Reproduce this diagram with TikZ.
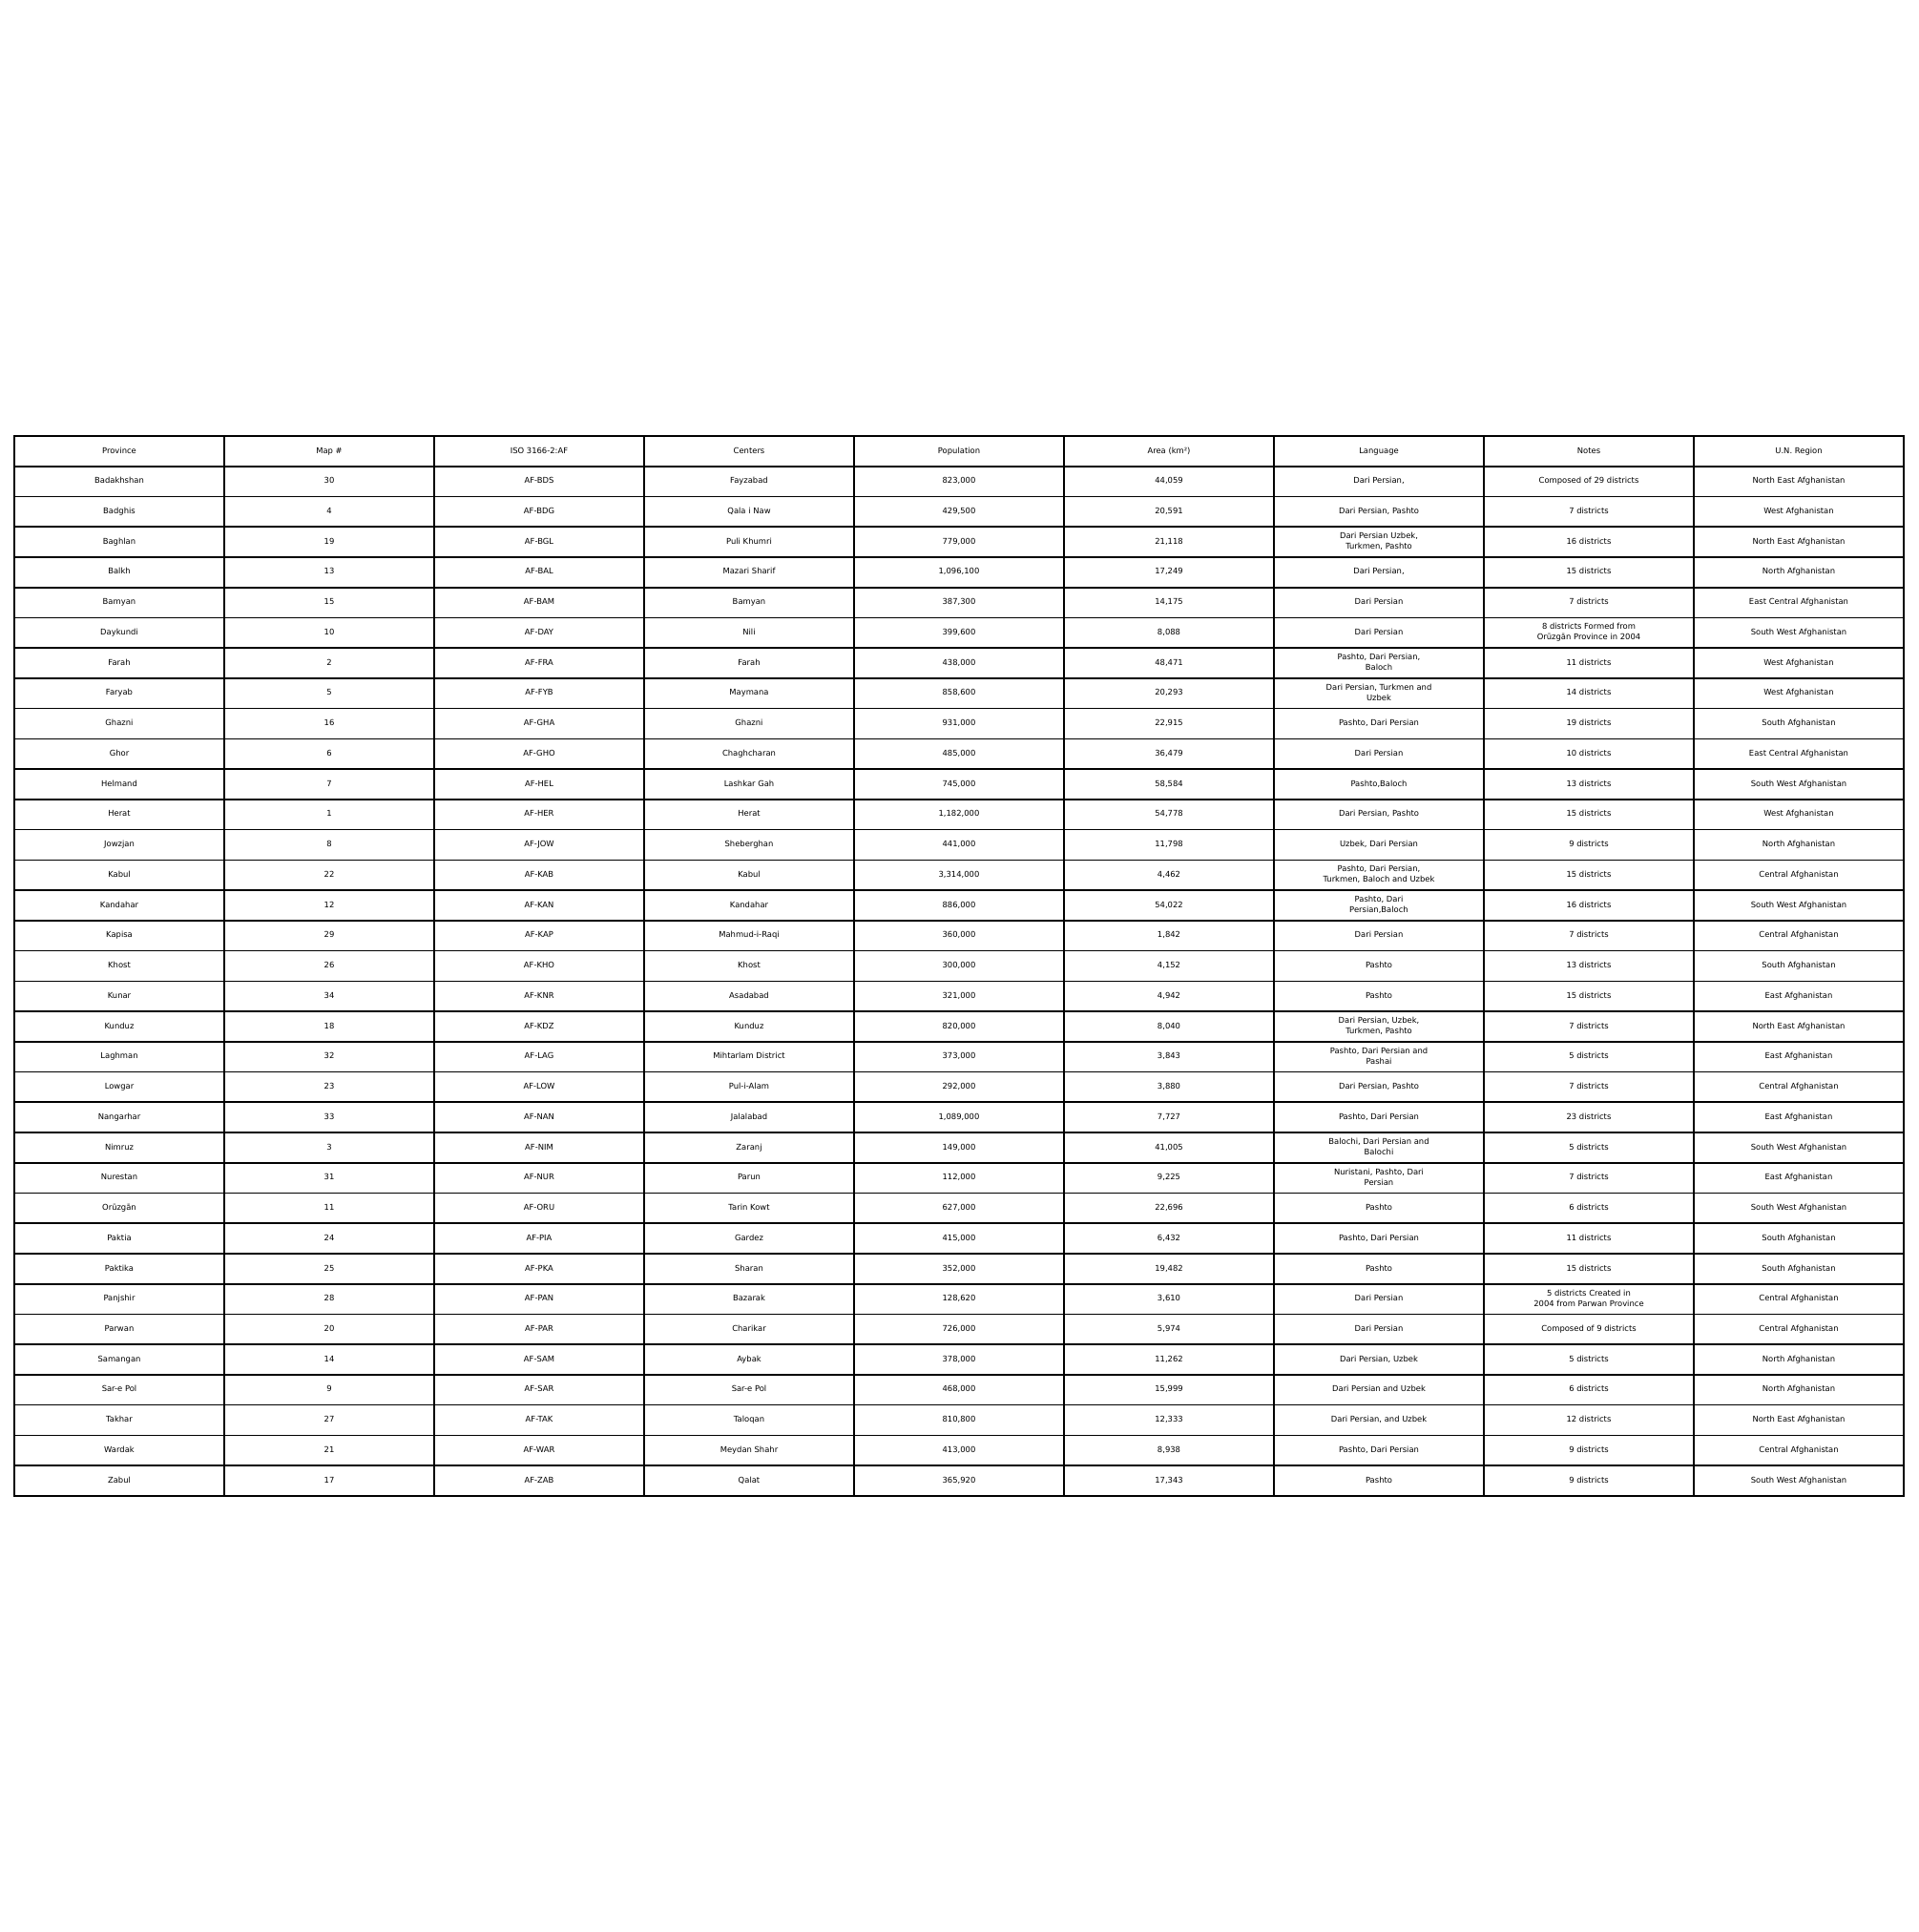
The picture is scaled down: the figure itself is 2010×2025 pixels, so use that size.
\documentclass[tikz,border=0pt]{standalone}
\usepackage{fontspec}
\setmainfont{DejaVu Sans}
\newcounter{rowi}
\newcommand\cs{\rule[-2.1pt]{0pt}{8.5pt}}
\tikzset{
  cell/.style={draw=black, line width=1.6pt, minimum width=220pt, minimum height=31.74pt,
    inner sep=0pt, align=center, text=black, font=\fontsize{8.4}{11}\selectfont}
}
\newcommand\trow[9]{%
  \stepcounter{rowi}%
  \edef\rn{\arabic{rowi}}%
  \pgfmathsetmacro\ry{457+31.74*(\rn-0.5)}%
  \node[cell] (r\rn c1) at (125,\ry) {\cs#1\cs};
  \node[cell] (r\rn c2) at (345,\ry) {\cs#2\cs};
  \node[cell] (r\rn c3) at (565,\ry) {\cs#3\cs};
  \node[cell] (r\rn c4) at (785,\ry) {\cs#4\cs};
  \node[cell] (r\rn c5) at (1005,\ry) {\cs#5\cs};
  \node[cell] (r\rn c6) at (1225,\ry) {\cs#6\cs};
  \node[cell] (r\rn c7) at (1445,\ry) {\cs#7\cs};
  \node[cell] (r\rn c8) at (1665,\ry) {\cs#8\cs};
  \node[cell] (r\rn c9) at (1885,\ry) {\cs#9\cs};
}
\begin{document}
\begin{tikzpicture}[x=1pt,y=-1pt]
\useasboundingbox (0,0) rectangle (2010,2025);
\trow{Province}{Map \#}{ISO 3166-2:AF}{Centers}{Population}{Area (km²)}{Language}{Notes}{U.N. Region}
\trow{Badakhshan}{30}{AF-BDS}{Fayzabad}{823,000}{44,059}{Dari Persian,}{Composed of 29 districts}{North East Afghanistan}
\trow{Badghis}{4}{AF-BDG}{Qala i Naw}{429,500}{20,591}{Dari Persian, Pashto}{7 districts}{West Afghanistan}
\trow{Baghlan}{19}{AF-BGL}{Puli Khumri}{779,000}{21,118}{Dari Persian Uzbek,\\Turkmen, Pashto}{16 districts}{North East Afghanistan}
\trow{Balkh}{13}{AF-BAL}{Mazari Sharif}{1,096,100}{17,249}{Dari Persian,}{15 districts}{North Afghanistan}
\trow{Bamyan}{15}{AF-BAM}{Bamyan}{387,300}{14,175}{Dari Persian}{7 districts}{East Central Afghanistan}
\trow{Daykundi}{10}{AF-DAY}{Nili}{399,600}{8,088}{Dari Persian}{8 districts Formed from\\Orūzgān Province in 2004}{South West Afghanistan}
\trow{Farah}{2}{AF-FRA}{Farah}{438,000}{48,471}{Pashto, Dari Persian,\\Baloch}{11 districts}{West Afghanistan}
\trow{Faryab}{5}{AF-FYB}{Maymana}{858,600}{20,293}{Dari Persian, Turkmen and\\Uzbek}{14 districts}{West Afghanistan}
\trow{Ghazni}{16}{AF-GHA}{Ghazni}{931,000}{22,915}{Pashto, Dari Persian}{19 districts}{South Afghanistan}
\trow{Ghor}{6}{AF-GHO}{Chaghcharan}{485,000}{36,479}{Dari Persian}{10 districts}{East Central Afghanistan}
\trow{Helmand}{7}{AF-HEL}{Lashkar Gah}{745,000}{58,584}{Pashto,Baloch}{13 districts}{South West Afghanistan}
\trow{Herat}{1}{AF-HER}{Herat}{1,182,000}{54,778}{Dari Persian, Pashto}{15 districts}{West Afghanistan}
\trow{Jowzjan}{8}{AF-JOW}{Sheberghan}{441,000}{11,798}{Uzbek, Dari Persian}{9 districts}{North Afghanistan}
\trow{Kabul}{22}{AF-KAB}{Kabul}{3,314,000}{4,462}{Pashto, Dari Persian,\\Turkmen, Baloch and Uzbek}{15 districts}{Central Afghanistan}
\trow{Kandahar}{12}{AF-KAN}{Kandahar}{886,000}{54,022}{Pashto, Dari\\Persian,Baloch}{16 districts}{South West Afghanistan}
\trow{Kapisa}{29}{AF-KAP}{Mahmud-i-Raqi}{360,000}{1,842}{Dari Persian}{7 districts}{Central Afghanistan}
\trow{Khost}{26}{AF-KHO}{Khost}{300,000}{4,152}{Pashto}{13 districts}{South Afghanistan}
\trow{Kunar}{34}{AF-KNR}{Asadabad}{321,000}{4,942}{Pashto}{15 districts}{East Afghanistan}
\trow{Kunduz}{18}{AF-KDZ}{Kunduz}{820,000}{8,040}{Dari Persian, Uzbek,\\Turkmen, Pashto}{7 districts}{North East Afghanistan}
\trow{Laghman}{32}{AF-LAG}{Mihtarlam District}{373,000}{3,843}{Pashto, Dari Persian and\\Pashai}{5 districts}{East Afghanistan}
\trow{Lowgar}{23}{AF-LOW}{Pul-i-Alam}{292,000}{3,880}{Dari Persian, Pashto}{7 districts}{Central Afghanistan}
\trow{Nangarhar}{33}{AF-NAN}{Jalalabad}{1,089,000}{7,727}{Pashto, Dari Persian}{23 districts}{East Afghanistan}
\trow{Nimruz}{3}{AF-NIM}{Zaranj}{149,000}{41,005}{Balochi, Dari Persian and\\Balochi}{5 districts}{South West Afghanistan}
\trow{Nurestan}{31}{AF-NUR}{Parun}{112,000}{9,225}{Nuristani, Pashto, Dari\\Persian}{7 districts}{East Afghanistan}
\trow{Orūzgān}{11}{AF-ORU}{Tarin Kowt}{627,000}{22,696}{Pashto}{6 districts}{South West Afghanistan}
\trow{Paktia}{24}{AF-PIA}{Gardez}{415,000}{6,432}{Pashto, Dari Persian}{11 districts}{South Afghanistan}
\trow{Paktika}{25}{AF-PKA}{Sharan}{352,000}{19,482}{Pashto}{15 districts}{South Afghanistan}
\trow{Panjshir}{28}{AF-PAN}{Bazarak}{128,620}{3,610}{Dari Persian}{5 districts Created in\\2004 from Parwan Province}{Central Afghanistan}
\trow{Parwan}{20}{AF-PAR}{Charikar}{726,000}{5,974}{Dari Persian}{Composed of 9 districts}{Central Afghanistan}
\trow{Samangan}{14}{AF-SAM}{Aybak}{378,000}{11,262}{Dari Persian, Uzbek}{5 districts}{North Afghanistan}
\trow{Sar-e Pol}{9}{AF-SAR}{Sar-e Pol}{468,000}{15,999}{Dari Persian and Uzbek}{6 districts}{North Afghanistan}
\trow{Takhar}{27}{AF-TAK}{Taloqan}{810,800}{12,333}{Dari Persian, and Uzbek}{12 districts}{North East Afghanistan}
\trow{Wardak}{21}{AF-WAR}{Meydan Shahr}{413,000}{8,938}{Pashto, Dari Persian}{9 districts}{Central Afghanistan}
\trow{Zabul}{17}{AF-ZAB}{Qalat}{365,920}{17,343}{Pashto}{9 districts}{South West Afghanistan}
\end{tikzpicture}
\end{document}
